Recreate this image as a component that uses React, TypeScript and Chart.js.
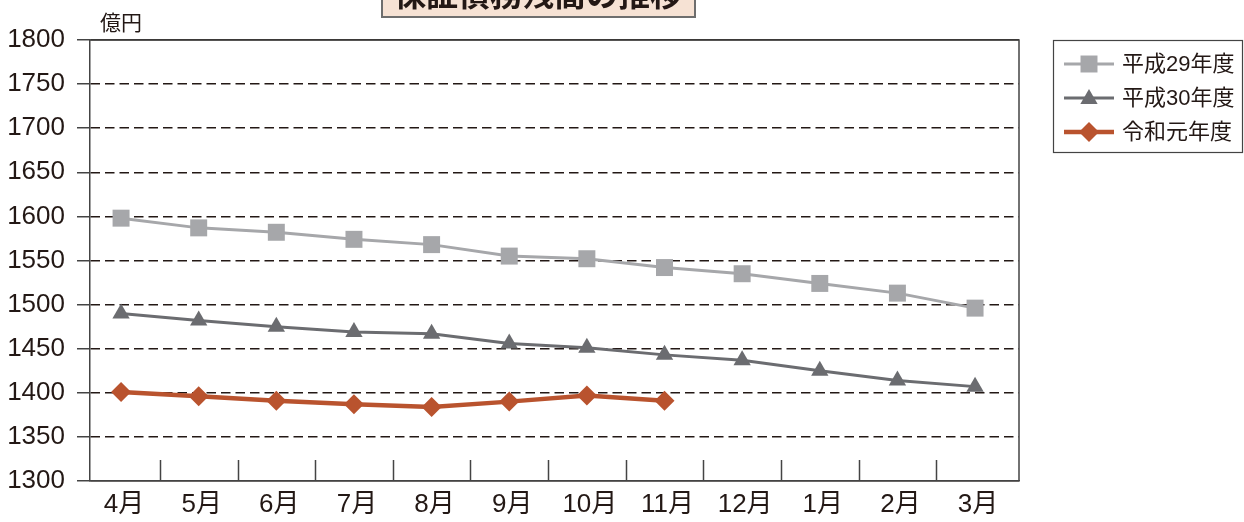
import React, { useEffect, useRef } from "react";
import { Chart, registerables } from "chart.js";

Chart.register(...registerables);

const months = ["4月", "5月", "6月", "7月", "8月", "9月", "10月", "11月", "12月", "1月", "2月", "3月"];
const h29 = [1598, 1587, 1582, 1574, 1568, 1555, 1552, 1542, 1535, 1524, 1513, 1496];
const h30 = [1490, 1482, 1475, 1469, 1467, 1456, 1451, 1443, 1437, 1425, 1414, 1407];
const r1 = [1401, 1396, 1391, 1387, 1384, 1390, 1397, 1391];
const seriesLabels = ["平成29年度", "平成30年度", "令和元年度"];
const yTicksMin = 1300;
const yTicksMax = 1800;
const yStep = 50;
const titleText = "保証債務残高の推移";
const unitText = "億円";

const COLORS = ["#a6a7aa", "#6b6c70", "#b9532e"];
const FONT = "'Liberation Sans', 'Noto Sans CJK JP', sans-serif";
const CJK = "'Noto Sans CJK JP', 'Liberation Sans', sans-serif";

function shape(ctx: CanvasRenderingContext2D, kind: string, x: number, y: number, r: number, color: string) {
  ctx.save();
  ctx.fillStyle = color;
  ctx.beginPath();
  if (kind === "rect") {
    const s = Math.SQRT1_2 * r;
    ctx.rect(x - s, y - s, 2 * s, 2 * s);
  } else if (kind === "triangle") {
    ctx.moveTo(x, y - r);
    ctx.lineTo(x + r * 0.866, y + r / 2);
    ctx.lineTo(x - r * 0.866, y + r / 2);
    ctx.closePath();
  } else {
    ctx.moveTo(x - r, y);
    ctx.lineTo(x, y - r);
    ctx.lineTo(x + r, y);
    ctx.lineTo(x, y + r);
    ctx.closePath();
  }
  ctx.fill();
  ctx.restore();
}

const decorPlugin = {
  id: "decor",
  afterDraw(chart: any) {
    const ctx: CanvasRenderingContext2D = chart.ctx;
    const ca = chart.chartArea;
    const xs = chart.scales.x;
    ctx.save();
    // frame top and right
    ctx.strokeStyle = "#444";
    ctx.lineWidth = 1.5;
    ctx.beginPath();
    ctx.moveTo(ca.left, ca.top);
    ctx.lineTo(ca.right, ca.top);
    ctx.lineTo(ca.right, ca.bottom);
    ctx.stroke();
    // inward category ticks
    ctx.beginPath();
    for (let i = 0; i < months.length - 1; i++) {
      const x = Math.round(xs.getPixelForValue(i + 0.5)) + 0.5;
      ctx.moveTo(x, ca.bottom);
      ctx.lineTo(x, ca.bottom - 21);
    }
    ctx.stroke();

    // unit label
    ctx.fillStyle = "#231815";
    ctx.font = `21px ${CJK}`;
    ctx.textAlign = "center";
    ctx.textBaseline = "middle";
    ctx.fillText(unitText, 121, 22);

    // title box (cut off at top)
    ctx.fillStyle = "#f6e2d4";
    ctx.fillRect(382, -20, 313, 37);
    ctx.strokeStyle = "#6e6e6e";
    ctx.lineWidth = 2;
    ctx.strokeRect(382, -20, 313, 37);
    ctx.fillStyle = "#231815";
    ctx.font = `bold 32px ${CJK}`;
    ctx.fillText(titleText, 538, -6);

    // legend
    ctx.strokeStyle = "#444";
    ctx.lineWidth = 1.2;
    ctx.strokeRect(1053.5, 40.5, 189, 112);
    const kinds = ["rect", "triangle", "rectRot"];
    const rows = [64, 98, 132];
    const widths = [3, 3, 4.5];
    const radii = [12, 10, 10];
    for (let i = 0; i < 3; i++) {
      const y = rows[i];
      ctx.strokeStyle = COLORS[i];
      ctx.lineWidth = widths[i];
      ctx.beginPath();
      ctx.moveTo(1064, y);
      ctx.lineTo(1114, y);
      ctx.stroke();
      shape(ctx, kinds[i], 1089, i === 1 ? y + 1 : y, radii[i], COLORS[i]);
      ctx.fillStyle = "#231815";
      ctx.font = `22px ${FONT}`;
      ctx.textAlign = "left";
      ctx.textBaseline = "middle";
      ctx.fillText(chart.data.datasets[i].label, 1122, y + 1);
    }
    ctx.restore();
  },
};

export default function App() {
  const ref = useRef<HTMLCanvasElement>(null);
  useEffect(() => {
    if (!ref.current) return;
    const mk = (arr: number[]) => arr.map((v, i) => ({ x: i, y: v }));
    const chart = new Chart(ref.current, {
      type: "line",
      data: {
        datasets: [
          {
            label: seriesLabels[0],
            data: mk(h29),
            borderColor: COLORS[0],
            backgroundColor: COLORS[0],
            borderWidth: 3,
            pointStyle: "rect",
            pointRadius: 12,
            pointBorderWidth: 0,
            pointBackgroundColor: COLORS[0],
            tension: 0,
          },
          {
            label: seriesLabels[1],
            data: mk(h30),
            borderColor: COLORS[1],
            backgroundColor: COLORS[1],
            borderWidth: 3,
            pointStyle: "triangle",
            pointRadius: 10,
            pointBorderWidth: 0,
            pointBackgroundColor: COLORS[1],
            tension: 0,
          },
          {
            label: seriesLabels[2],
            data: mk(r1),
            borderColor: COLORS[2],
            backgroundColor: COLORS[2],
            borderWidth: 4.5,
            pointStyle: "rectRot",
            pointRadius: 10,
            pointBorderWidth: 0,
            pointBackgroundColor: COLORS[2],
            tension: 0,
          },
        ],
      },
      options: {
        animation: false,
        responsive: false,
        layout: { padding: { left: 0, top: 40, right: 225, bottom: 0 } },
        plugins: { legend: { display: false }, tooltip: { enabled: false }, title: { display: false } },
        scales: {
          x: {
            type: "linear",
            min: -0.4,
            max: 11.566,
            afterBuildTicks: (axis: any) => {
              axis.ticks = months.map((_, i) => ({ value: i }));
            },
            afterFit: (axis: any) => {
              axis.height = 41;
            },
            ticks: {
              autoSkip: false,
              maxRotation: 0,
              minRotation: 0,
              padding: 8,
              labelOffset: 3,
              color: "#231815",
              font: { family: FONT, size: 26 },
              callback: (v: any) => months[v as number],
            },
            grid: { display: false, drawTicks: false },
            border: { display: true, color: "#444", width: 1.5 },
          },
          y: {
            min: yTicksMin,
            max: yTicksMax,
            afterFit: (axis: any) => {
              axis.width = 90;
            },
            ticks: {
              stepSize: yStep,
              padding: 12,
              color: "#231815",
              font: { family: FONT, size: 26 },
              callback: (v: any) => String(v),
            },
            grid: {
              color: "#231815",
              lineWidth: 1.5,
              tickLength: 13,
              tickColor: "#444",
              tickWidth: 1.5,
            },
            border: {
              display: true,
              color: "#444",
              width: 1.5,
              dash: (c: any) => (c.tick && (c.tick.value === yTicksMax || c.tick.value === yTicksMin) ? [] : [9.5, 5]),
            },
          },
        },
      } as any,
      plugins: [decorPlugin],
    });
    return () => chart.destroy();
  }, []);
  return (
    <div style={{ position: "fixed", left: 0, top: 0, width: 1244, height: 522, background: "#fff" }}>
      <canvas ref={ref} width={1244} height={522} style={{ display: "block" }} />
    </div>
  );
}
